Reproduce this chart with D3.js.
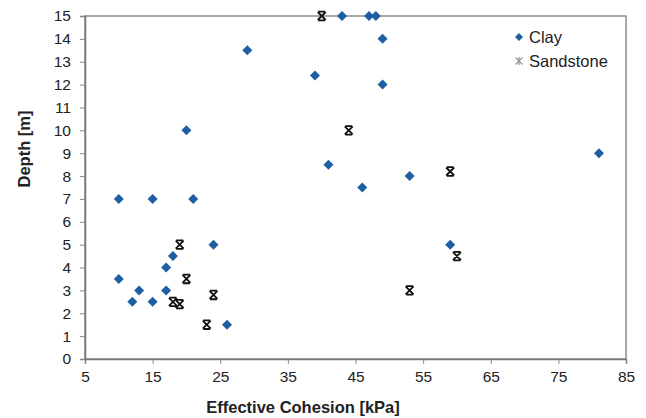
<!DOCTYPE html>
<html>
<head>
<meta charset="utf-8">
<script src="https://cdn.jsdelivr.net/npm/d3@7"></script>
<style>
body { margin: 0; background: #fff; }
text { font-family: "Liberation Sans", Arial, sans-serif; }
</style>
</head>
<body>
<div id="chart"></div>
<script>
// clay samples
var clayX = [10, 15, 21, 20, 29, 39, 43, 47, 48, 49, 49, 41, 46, 53, 81, 59, 24, 18, 17, 17, 10, 13, 12, 15, 26];
var clayY = [7, 7, 7, 10, 13.5, 12.4, 15, 15, 15, 14, 12, 8.5, 7.5, 8, 9, 5, 5, 4.5, 4, 3, 3.5, 3, 2.5, 2.5, 1.5];
// sandstone samples
var sandX = [40, 44, 59, 60, 53, 19, 20, 18, 19, 24, 23];
var sandY = [15, 10, 8.2, 4.5, 3, 5, 3.5, 2.5, 2.4, 2.8, 1.5];

var xTicks = [5, 15, 25, 35, 45, 55, 65, 75, 85];
var yTicks = d3.range(0, 16);
var seriesNames = ["Clay", "Sandstone"];

var W = 646, H = 418;
var m = {left: 85, right: 20, top: 16, bottom: 59};

var svg = d3.select("#chart").append("svg")
  .attr("width", W)
  .attr("height", H);

var x = d3.scaleLinear().domain([5, 85]).range([m.left, W - m.right]);
var y = d3.scaleLinear().domain([0, 15]).range([H - m.bottom, m.top]);

// frame
svg.append("rect")
  .attr("x", x(5)).attr("y", y(15))
  .attr("width", x(85) - x(5)).attr("height", y(0) - y(15))
  .attr("fill", "none").attr("stroke", "#8c8c8c").attr("stroke-width", 1.5);

var xAxis = svg.append("g")
  .attr("transform", "translate(0," + y(0) + ")")
  .call(d3.axisBottom(x).tickValues(xTicks).tickSize(5).tickPadding(7));
var yAxis = svg.append("g")
  .attr("transform", "translate(" + x(5) + ",0)")
  .call(d3.axisLeft(y).tickValues(yTicks).tickSize(5).tickPadding(9));

[xAxis, yAxis].forEach(function(a){
  a.select(".domain").attr("stroke", "#777").attr("stroke-width", 1.5);
  a.selectAll(".tick line").attr("stroke", "#888");
  a.selectAll(".tick text").attr("font-size", 15.5).attr("fill", "#222")
    .style("font-family", "Liberation Sans, Arial, sans-serif");
});

svg.append("text")
  .attr("x", 303).attr("y", 413)
  .attr("text-anchor", "middle")
  .attr("font-size", 16.5).attr("font-weight", "bold").attr("fill", "#222")
  .text("Effective Cohesion [kPa]");

svg.append("text")
  .attr("transform", "translate(30,149) rotate(-90)")
  .attr("text-anchor", "middle")
  .attr("font-size", 16.5).attr("font-weight", "bold").attr("fill", "#222")
  .text("Depth [m]");

var diamond = "M0,-5L5,0L0,5L-5,0Z";
var star = "M-4,-4L4,4M-4,4L4,-4M-3.5,-4.3L3.5,-4.3M-3.5,4.3L3.5,4.3";

var clay = clayX.map(function(d, i){ return {x: d, y: clayY[i]}; });
var sand = sandX.map(function(d, i){ return {x: d, y: sandY[i]}; });

svg.selectAll(".sand").data(sand).enter().append("path")
  .attr("class", "sand")
  .attr("transform", function(d){ return "translate(" + x(d.x) + "," + y(d.y) + ")"; })
  .attr("d", star)
  .attr("stroke", "#111").attr("stroke-width", 1.8).attr("fill", "none");

svg.selectAll(".clay").data(clay).enter().append("path")
  .attr("class", "clay")
  .attr("transform", function(d){ return "translate(" + x(d.x) + "," + y(d.y) + ")"; })
  .attr("d", diamond)
  .attr("fill", "#1d5fa2");

// legend
var lg = svg.append("g").attr("transform", "translate(519,37)");
lg.append("path").attr("d", "M0,-4L4,0L0,4L-4,0Z").attr("fill", "#1d5fa2");
lg.append("path").attr("transform", "translate(0,24)")
  .attr("d", "M-3.5,-3.5L3.5,3.5M-3.5,3.5L3.5,-3.5M0,-4L0,4")
  .attr("stroke", "#999").attr("stroke-width", 1.3);
lg.selectAll(".lt").data(seriesNames).enter().append("text")
  .attr("x", 10).attr("y", function(d, i){ return i * 24 + 6; })
  .attr("font-size", 16.5).attr("fill", "#222")
  .text(function(d){ return d; });
</script>
</body>
</html>
